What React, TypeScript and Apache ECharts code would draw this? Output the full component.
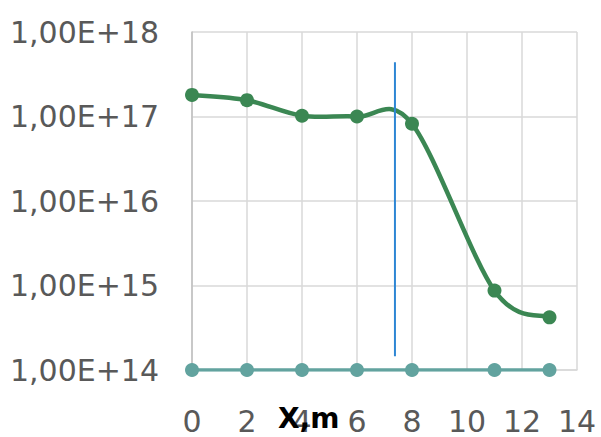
import React, { useEffect, useRef } from "react";
import * as echarts from "echarts";

const xPositions = [0, 2, 4, 6, 8, 11, 13];
const greenValues = [1.8e17, 1.56e17, 1.02e17, 1.0e17, 8.2e16, 8.7e14, 4.2e14];
const tealValues = [1e14, 1e14, 1e14, 1e14, 1e14, 1e14, 1e14];
const markerLineX = [7.38, 7.38];
const markerLineY = [1.45e14, 4.4e17];
const xAxisName = "X,m";

export default function App() {
  const ref = useRef<HTMLDivElement>(null);
  useEffect(() => {
    if (!ref.current) return;
    const chart = echarts.init(ref.current, null, { renderer: "svg" });
    const font = "DejaVu Sans";
    const greenData = xPositions.map((x, i) => [x, greenValues[i]]);
    chart.setOption({
      animation: false,
      grid: { left: 192, right: 24, top: 32, bottom: 67, containLabel: false },
      xAxis: {
        type: "value",
        min: 0,
        max: 14,
        interval: 2,
        axisLine: { show: true, lineStyle: { color: "#d9d9d9", width: 1.5 } },
        axisTick: { show: false },
        splitLine: { show: true, lineStyle: { color: "#d9d9d9", width: 1.5 } },
        axisLabel: { color: "#595959", fontSize: 30, fontFamily: font, margin: 36 },
      },
      yAxis: {
        type: "log",
        logBase: 10,
        min: 1e14,
        max: 1e18,
        axisLine: { show: true, lineStyle: { color: "#bfbfbf", width: 1.5 } },
        axisTick: { show: false },
        splitLine: { show: true, lineStyle: { color: "#d9d9d9", width: 1.5 } },
        axisLabel: {
          color: "#595959",
          fontSize: 30,
          fontFamily: font,
          margin: 33,
          formatter: (v: number) => "1,00E+" + Math.round(Math.log10(v)),
        },
      },
      graphic: [
        {
          type: "text",
          left: 278,
          top: 404,
          style: {
            text: xAxisName,
            font: "bold 28px 'DejaVu Sans'",
            fill: "#000000",
          },
          z: 100,
        },
      ],
      series: [
        {
          type: "line",
          data: xPositions.map((x, i) => [x, tealValues[i]]),
          symbol: "circle",
          symbolSize: 14,
          itemStyle: { color: "#62a39f", opacity: 1 },
          lineStyle: { color: "#62a39f", width: 3.5 },
          z: 3,
        },
        {
          type: "custom",
          data: greenData,
          z: 4,
          renderItem: (params: any, api: any) => {
            if (params.dataIndex !== 0) return null;
            const pts = greenData.map((d) => api.coord(d));
            const n = pts.length;
            let d = `M${pts[0][0]},${pts[0][1]}`;
            for (let i = 0; i < n - 1; i++) {
              const p0 = pts[Math.max(i - 1, 0)];
              const p1 = pts[i];
              const p2 = pts[i + 1];
              const p3 = pts[Math.min(i + 2, n - 1)];
              const c1x = p1[0] + (p2[0] - p0[0]) / 6;
              const c1y = p1[1] + (p2[1] - p0[1]) / 6;
              const c2x = p2[0] - (p3[0] - p1[0]) / 6;
              const c2y = p2[1] - (p3[1] - p1[1]) / 6;
              d += ` C${c1x},${c1y} ${c2x},${c2y} ${p2[0]},${p2[1]}`;
            }
            return {
              type: "path",
              shape: { pathData: d },
              style: { stroke: "#3b8753", lineWidth: 4.5, fill: "none", lineJoin: "round", lineCap: "round" },
            };
          },
        },
        {
          type: "scatter",
          data: greenData,
          symbol: "circle",
          symbolSize: 14,
          itemStyle: { color: "#3b8753", opacity: 1 },
          z: 5,
        },
        {
          type: "line",
          data: markerLineX.map((x, i) => [x, markerLineY[i]]),
          symbol: "none",
          lineStyle: { color: "#2e86d4", width: 2 },
          z: 6,
        },
      ],
    });
    return () => chart.dispose();
  }, []);
  return <div ref={ref} style={{ width: 601, height: 437, position: "absolute", left: 0, top: 0 }} />;
}
